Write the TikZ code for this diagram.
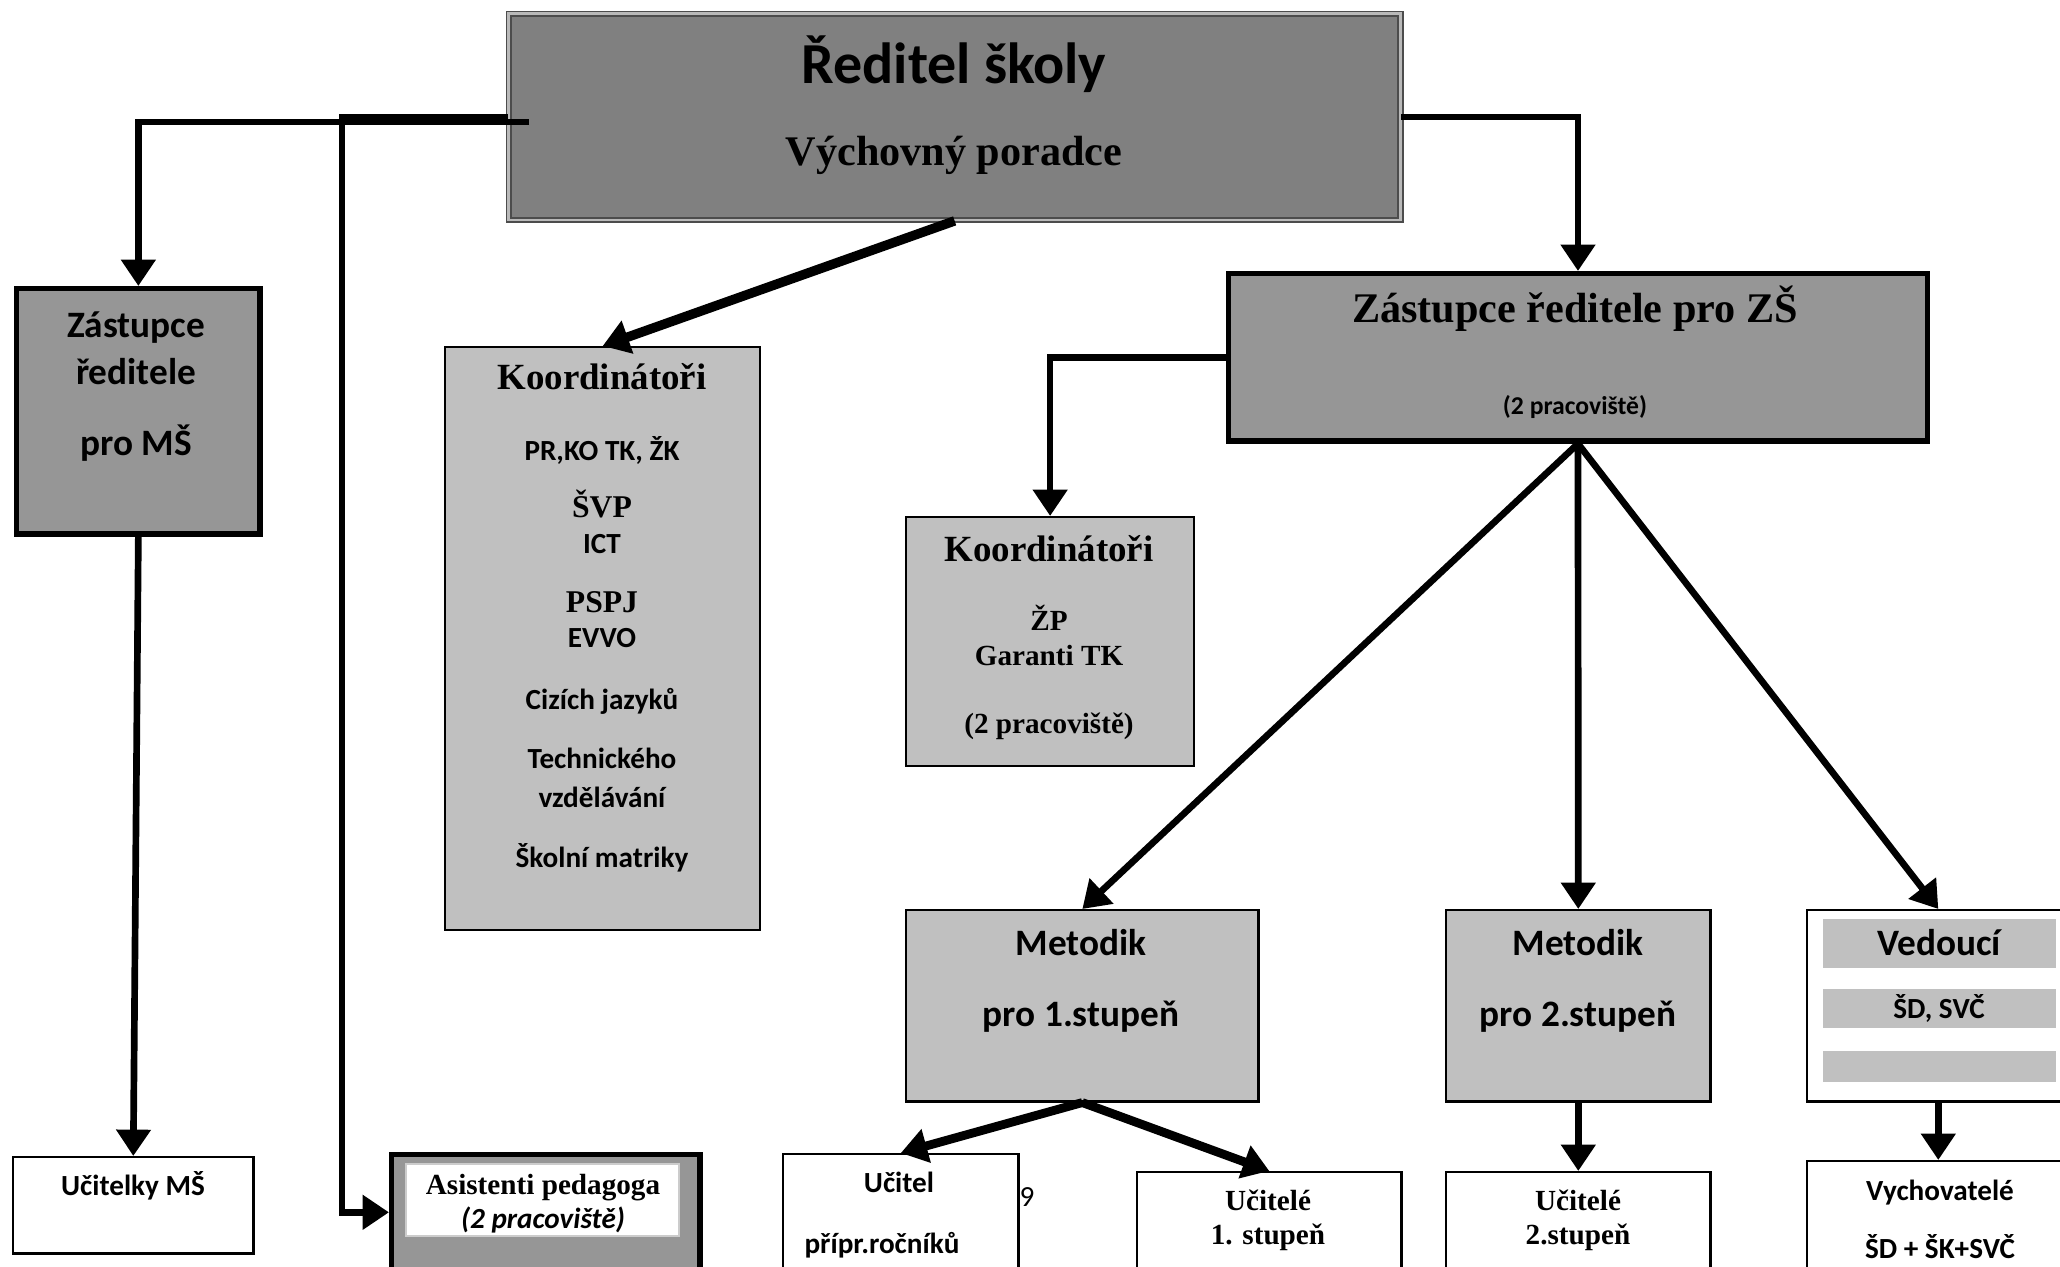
\documentclass[tikz,border=0pt]{standalone}
\usepackage{fontspec}
\setmainfont{Liberation Serif}
\newfontfamily\carl{Carlito}
\newfontfamily\tms{Liberation Serif}
\usetikzlibrary{arrows.meta}
\definecolor{gA}{RGB}{128,128,128}
\definecolor{gB}{RGB}{150,150,150}
\definecolor{gC}{RGB}{192,192,192}
\tikzset{
  bx/.style={rectangle, inner sep=0pt, anchor=north west, draw=black, line width=0.6pt},
  lbl/.style={inner sep=0pt, anchor=base},
  cT/.style={font={\carl\bfseries\fontsize{16.5}{18}\selectfont}},
  cM/.style={font={\carl\bfseries\fontsize{10.6}{12}\selectfont}},
  cS/.style={font={\carl\bfseries\fontsize{8.3}{10}\selectfont}},
  cX/.style={font={\carl\bfseries\fontsize{7.3}{9}\selectfont}},
  cI/.style={font={\carl\bfseries\itshape\fontsize{8.3}{10}\selectfont}},
  cR/.style={font={\carl\fontsize{8.3}{10}\selectfont}},
  tL/.style={font={\tms\bfseries\fontsize{12}{14}\selectfont}},
  tM/.style={font={\tms\bfseries\fontsize{10.5}{12}\selectfont}},
  tS/.style={font={\tms\bfseries\fontsize{8.3}{10}\selectfont}},
  tN/.style={font={\tms\bfseries\fontsize{9}{10}\selectfont}},
  arr/.style={line width=1.9pt, -{Triangle[length=7.5pt,width=9.5pt]}},
}
\begin{document}
\begin{tikzpicture}[x=0.01cm, y=-0.01cm]
\useasboundingbox (0,0) rectangle (2060,1267);
\fill[white] (0,0) rectangle (2060,1267);

% boxes
\node[bx, fill=gA, draw=black!70, line width=0.5pt, double=gray!55, double distance=0.8pt,
      minimum width=8.91cm, minimum height=2.06cm] (dir) at (508,13) {};
\node[bx, fill=gB, line width=1.3pt, minimum width=2.44cm, minimum height=2.46cm] (ms) at (14,286) {};
\draw[line width=0.5pt] ([shift={(0.045cm,-0.045cm)}]ms.north west) rectangle ([shift={(-0.045cm,0.045cm)}]ms.south east);
\node[bx, fill=gC, minimum width=3.15cm, minimum height=5.83cm] (kl) at (444,346) {};
\node[bx, fill=gB, line width=1.3pt, minimum width=6.99cm, minimum height=1.68cm] (zs) at (1226,271) {};
\draw[line width=0.5pt] ([shift={(0.045cm,-0.045cm)}]zs.north west) rectangle ([shift={(-0.045cm,0.045cm)}]zs.south east);
\node[bx, fill=gC, minimum width=2.88cm, minimum height=2.49cm] (km) at (905,516) {};
\node[bx, fill=gC, line width=0.7pt, minimum width=3.52cm, minimum height=1.91cm] (m1) at (905,909) {};
\node[bx, fill=gC, line width=0.7pt, minimum width=2.64cm, minimum height=1.91cm] (m2) at (1445,909) {};
\node[bx, fill=white, line width=0.7pt, minimum width=2.62cm, minimum height=1.91cm] (ved) at (1806,909) {};
\fill[gC] (1823,919) rectangle (2056,968);
\fill[gC] (1823,989) rectangle (2056,1028);
\fill[gC] (1823,1051) rectangle (2056,1082);
\node[bx, fill=white, line width=0.7pt, minimum width=2.40cm, minimum height=0.96cm] (uk) at (12,1156) {};
\node[bx, fill=gB, line width=1.3pt, minimum width=3.09cm, minimum height=1.38cm] (asis) at (389,1152) {};
\draw[line width=0.5pt] ([shift={(0.045cm,-0.045cm)}]asis.north west) rectangle ([shift={(-0.045cm,0.045cm)}]asis.south east);
\fill[white, draw=gray!40, line width=0.4pt] (406,1164) rectangle (679,1236);
\node[bx, fill=white, line width=0.7pt, minimum width=2.35cm, minimum height=1.37cm] (uc) at (782,1153) {};
\node[bx, fill=white, line width=0.7pt, minimum width=2.64cm, minimum height=1.19cm] (u1) at (1136,1171) {};
\node[bx, fill=white, line width=0.7pt, minimum width=2.64cm, minimum height=1.19cm] (u2) at (1445,1171) {};
\node[bx, fill=white, line width=0.7pt, minimum width=2.62cm, minimum height=1.30cm] (vy) at (1806,1160) {};

% texts
\node[lbl, cT] (t1) at (954,84) {Ředitel školy};
\node[lbl, tL] (t2) at (954,166) {Výchovný poradce};
\node[lbl, cM] (t3) at (136,338) {Zástupce};
\node[lbl, cM] (t4) at (136,385) {ředitele};
\node[lbl, cM] (t5) at (136,456) {pro MŠ};
\node[lbl, tM] (k1) at (602,390) {Koordinátoři};
\node[lbl, cS] (k2) at (602,461) {PR,KO TK, ŽK};
\node[lbl, tN] (k3) at (602,518) {ŠVP};
\node[lbl, cS] (k4) at (602,554) {ICT};
\node[lbl, tN] (k5) at (602,613) {PSPJ};
\node[lbl, cS] (k6) at (602,648) {EVVO};
\node[lbl, cS] (k7) at (602,709) {Cizích jazyků};
\node[lbl, cS] (k8) at (602,768) {Technického};
\node[lbl, cS] (k9) at (602,807) {vzdělávání};
\node[lbl, cS] (k10) at (602,867) {Školní matriky};
\node[lbl, tL] (z1) at (1575,323) {Zástupce ředitele pro ZŠ};
\node[lbl, cX] (z2) at (1575,415) {(2 pracoviště)};
\node[lbl, tM] (q1) at (1049,562) {Koordinátoři};
\node[lbl, tS] (q2) at (1049,630) {ŽP};
\node[lbl, tS] (q3) at (1049,666) {Garanti TK};
\node[lbl, tS] (q4) at (1049,733) {(2 pracoviště)};
\node[lbl, cM] (a1) at (1081,955) {Metodik};
\node[lbl, cM] (a2) at (1081,1026) {pro 1.stupeň};
\node[lbl, cM] (b1) at (1578,955) {Metodik};
\node[lbl, cM] (b2) at (1578,1026) {pro 2.stupeň};
\node[lbl, cM] (v1) at (1939,955) {Vedoucí};
\node[lbl, cS] (v2) at (1939,1018) {ŠD, SVČ};
\node[lbl, cS] (w1) at (133,1195) {Učitelky MŠ};
\node[lbl, tS] (s1) at (543,1194) {Asistenti pedagoga};
\node[lbl, cI] (s2) at (543,1228) {(2 pracoviště)};
\node[lbl, cS] (p1) at (899,1192) {Učitel};
\node[lbl, cS] (p2) at (882,1253) {přípr.ročníků};
\node[lbl, cR] (pg) at (1027,1206) {9};
\node[lbl, tS] (e1) at (1268,1210) {Učitelé};
\node[lbl, tS] (e2) at (1268,1244) {1. stupeň};
\node[lbl, tS] (f1) at (1578,1210) {Učitelé};
\node[lbl, tS] (f2) at (1578,1244) {2.stupeň};
\node[lbl, cS] (h1) at (1940,1200) {Vychovatelé};
\node[lbl, cS] (h2) at (1940,1258) {ŠD + ŠK+SVČ};

% connectors
\coordinate (pA) at (529,122);
\coordinate (pB) at (508,117);
\coordinate (pC) at (342,117);
\draw[arr] (pA) -| (ms.north);
\draw[arr] (pB) -- (pC) |- ([yshift=0.11cm]asis.west);
\draw[arr] (ms.south) -- (uk.north);
\draw[arr, line width=2.7pt] (dir.south) -- (kl.north);
\draw[arr] (dir.east) -| (zs.north);
\draw[arr] (zs.west) -| (km.north);
\draw[arr] (zs.south) -- (m1.north);
\draw[arr] (zs.south) -- (m2.north);
\draw[arr] (zs.south) -- (ved.north);
\draw[arr, line width=2.5pt] (m1.south) -- (uc.north);
\draw[arr, line width=2.5pt] (m1.south) -- (u1.north);
\draw[arr] (m2.south) -- (u2.north);
\draw[arr] (ved.south) -- (vy.north);
\end{tikzpicture}
\end{document}
